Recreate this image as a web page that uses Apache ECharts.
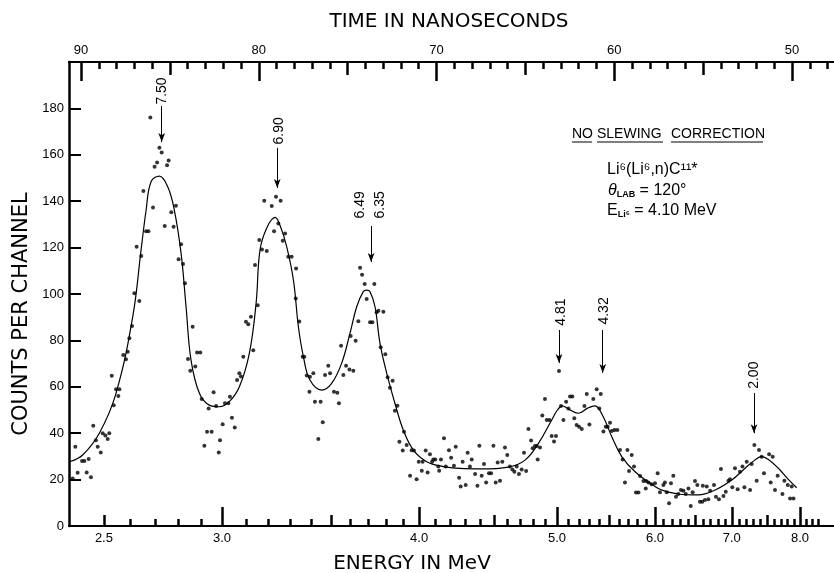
<!DOCTYPE html>
<html>
<head>
<meta charset="utf-8">
<title>Li6(Li6,n)C11* neutron time-of-flight spectrum</title>
<script src="https://cdn.jsdelivr.net/npm/echarts@6/dist/echarts.min.js"></script>
<style>
  html, body { margin: 0; padding: 0; background: #fff; }
  #chart { width: 834px; height: 573px; }
</style>
</head>
<body>
<div id="chart"></div>
<script>
// measured counts, x is flight time in ns
const dotTime = [
  90.47, 90.32, 90.19, 89.94, 89.81, 89.68, 89.57, 89.44, 89.31, 89.16, 89.06, 88.89, 88.78, 88.63, 88.50, 88.41,
  88.27, 88.16, 88.03, 87.90, 87.84, 87.62, 87.47, 87.37, 87.28, 87.13, 87.00, 86.87, 86.72, 86.61, 86.49, 86.34,
  86.21, 86.10, 85.95, 85.86, 85.72, 85.59, 85.46, 85.29, 85.16, 85.07, 84.92, 84.79, 84.66, 84.51, 84.37, 84.26,
  84.15, 83.98, 83.85, 83.72, 83.57, 83.47, 83.29, 83.21, 83.06, 82.91, 82.82, 82.65, 82.54, 82.40, 82.25, 82.18,
  82.03, 81.90, 81.71, 81.62, 81.51, 81.35, 81.22, 81.09, 81.00, 80.87, 80.72, 80.59, 80.44, 80.31, 80.21, 80.06,
  79.97, 79.82, 79.69,
  79.55, 79.27, 79.14, 79.03, 78.90, 78.77, 78.65, 78.52, 78.34, 78.15, 77.92, 77.90, 77.72, 77.53, 77.44, 77.30,
  77.15, 77.12, 76.93, 76.84, 76.65, 76.52, 76.40, 76.27, 76.09, 75.99, 75.77, 75.58, 75.49, 75.37, 75.24, 75.09,
  74.90, 74.83, 74.68, 74.55, 74.40, 74.30, 74.19, 74.04, 73.93, 73.74, 73.61, 73.50, 73.37, 73.27, 73.14, 72.99,
  72.88, 72.75, 72.62, 72.47, 72.34, 72.20, 72.09, 71.90, 71.83, 71.68, 71.49, 71.40, 71.27, 71.12, 71.00, 70.83,
  70.78, 70.61, 70.50, 70.37, 70.25, 70.18, 70.07, 69.90, 69.85, 69.75, 69.58, 69.48, 69.30, 69.18, 69.02, 68.92,
  68.73,
  68.64, 68.53, 68.36, 68.25, 68.12, 68.02, 67.83, 67.70, 67.59, 67.46, 67.33, 67.21, 67.05, 66.93, 66.80, 66.67,
  66.56, 66.43, 66.30, 66.15, 66.02, 65.87, 65.73, 65.62, 65.49, 65.36, 65.21, 65.08, 64.96, 64.83, 64.68, 64.59,
  64.46, 64.36, 64.31, 64.18, 64.05, 63.90, 63.80, 63.65, 63.52, 63.39, 63.28, 63.11, 63.00, 62.86, 62.71, 62.58,
  62.49, 62.36, 62.25, 62.12, 61.98, 61.83, 61.68, 61.55, 61.40, 61.18, 60.99, 60.84, 60.76, 60.61, 60.48, 60.37,
  60.24, 60.14, 59.99, 59.83, 59.68, 59.53, 59.40, 59.26, 59.17, 59.02, 58.89, 58.78, 58.64, 58.55, 58.36, 58.23,
  58.21, 58.08, 57.90,
  57.71, 57.56, 57.43, 57.24, 57.15, 57.05, 56.92, 56.81, 56.68, 56.53, 56.40, 56.25, 56.11, 55.98, 55.83, 55.70,
  55.59, 55.46, 55.33, 55.18, 55.05, 55.02, 54.90, 54.80, 54.71, 54.61, 54.39, 54.28, 54.11, 54.00, 53.86, 53.73,
  53.58, 53.49, 53.36, 53.21, 53.06, 52.93, 52.79, 52.68, 52.55, 52.36, 52.27, 52.12, 51.99, 51.86, 51.71, 51.58,
  51.29, 51.20, 51.09, 50.96, 50.81, 50.54, 50.43, 50.24, 50.11, 50.02, 49.92
];
const dotCount = [
  20.5, 34.2, 23, 28, 28, 23.1, 28.9, 21, 43.2, 37, 34.2, 31.7, 40, 39, 37.5, 40,
  64.8, 52.1, 58.9, 56, 58.9, 73.7, 71.9, 75.1, 80.9, 86.2, 100.3, 120.4, 97, 116.4, 144.4, 127.1,
  127.1, 176.1, 137.3, 154.9, 156.7, 163, 161, 129.3, 155.5, 157.5, 135.2, 129, 138, 115, 121.4, 112.9,
  104.6, 72, 66.9, 85.9, 68.7, 74.8, 74.8, 54.7, 34.6, 40.6, 50.7, 40.6, 57.6, 51.7, 31.7, 37,
  43.9, 52.9, 52.9, 55.7, 46.7, 42.5, 62.9, 65.8, 64.4, 73, 88, 87, 90.2, 75.8, 112.5, 95.2,
  123.3, 119.2, 140.2,
  118.5, 137.9, 127.1, 141.9, 130.4, 140.2, 123, 126.1, 116.1, 116.1, 98.1, 111, 88.1, 73, 73, 64.9,
  57.9, 64.3, 65.8, 53.6, 37.5, 53.6, 44.7, 65.1, 69.1, 65.8, 57.9, 57.4, 52.9, 77.7, 65.1, 69.1,
  67.5, 81.9, 66.9, 79.9, 88.3, 111.3, 108.3, 104.3, 97.8, 87.8, 87.8, 104.3, 92.1, 92.8, 77, 92.4,
  74, 64.1, 59.6, 62.6, 49.7, 51.8, 36.3, 32.5, 40.6, 34.9, 21.7, 32.7, 32.5, 20.2, 27.7, 23.8,
  27.7, 32.5, 23.1, 30.9, 27.7, 28.7, 28.7, 25.6, 23.8, 28.7, 37.8, 25.6, 32.7, 29.4, 26, 34.2,
  20.8,
  17, 27.7, 17.7, 31.6, 25.6, 28.7, 22.4, 17.4, 34.6, 21.7, 26.7, 18.7, 22.7, 22.7, 34.6, 18.7,
  27.4, 19.5, 27.7, 33.8, 30.6, 25.6, 24.4, 23.4, 25.6, 22.4, 24.4, 31.6, 23.7, 41.8, 36.8, 33.5,
  34.5, 34.5, 28.7, 33.8, 47.6, 54.7, 45.7, 45.7, 38.8, 36.4, 38.8, 66.8, 51.7, 45.7, 53.6, 50.7,
  55.8, 55.8, 46.4, 43.5, 42.8, 41.8, 51.7, 56.9, 43.8, 54.7, 58.9, 50.7, 56.9, 40.7, 42.8, 42.8,
  44.5, 41, 41.4, 41.4, 32.8, 28.7, 18.7, 32.8, 23.7, 30.6, 25.6, 14.4, 14.4, 21.5, 19.4, 16.2,
  19.4, 18.8, 18,
  18.4, 22.7, 14.5, 17.7, 18.7, 14.5, 9.8, 18.4, 21.7, 12.6, 13.8, 15.5, 15.2, 13.8, 16.2, 8.6,
  14.5, 19.4, 17.7, 10.5, 10.5, 17.4, 11.2, 17, 11.5, 15.2, 17.7, 12.6, 11.5, 24.6, 12.9, 14.8,
  19.5, 20.1, 16.7, 24.9, 15.8, 23.4, 25.6, 16.7, 27.7, 15.5, 26.7, 34.9, 19.5, 32.8, 29.9, 22.7,
  30.9, 18.7, 29.9, 15.5, 21.7, 13.8, 19.5, 17.7, 11.9, 17, 11.9
];

// hand-drawn fit through the spectrum
const fitTime = [
  90.6, 89.91, 88.97, 88.03, 87.09, 86.62, 86.34, 86.06, 85.59, 85.12, 84.75, 84.37, 84.09, 83.81, 83.34, 82.78,
  82.22, 81.66, 81.09, 80.53, 80.15, 79.93, 79.55, 79.08, 78.80, 78.43, 78.05, 77.77, 77.49, 77.12, 76.46, 75.90,
  75.34, 74.87, 74.49, 74.12, 73.93, 73.74, 73.46, 73.18, 72.80, 72.34, 71.87, 71.30, 70.55, 69.62, 68.68, 67.46,
  65.96, 65.02, 64.27, 63.52, 63.20, 62.92, 62.60, 62.02, 61.50, 61.08, 60.65, 60.14, 59.58, 58.83, 57.71, 57.33,
  56.40, 55.27, 54.33, 53.39, 52.64, 52.08, 51.71, 51.33, 50.77, 50.21, 49.74
];
const fitCount = [
  27.8, 30.6, 40, 57.2, 90.2, 119, 136, 148.4, 150.8, 146.2, 136.2, 117.5, 94.5, 71.5, 57.2, 52.1,
  51.4, 53.6, 60, 74.4, 96, 119, 128.5, 133, 129.5, 120.4, 106, 85.9, 73, 62.9, 58.6, 61.5,
  70.1, 83, 94.5, 101, 101.7, 101, 94.5, 78.7, 65.8, 52.9, 41.4, 32.7, 27.7, 25.6, 24.8, 24.6,
  25.4, 28.4, 35.6, 45.7, 50, 51.8, 50.5, 48.6, 50.8, 51.8, 47.5, 38.5, 29.9, 23.4, 17, 15.5,
  13.8, 13.4, 15.5, 19.8, 24.9, 28.5, 29.9, 28.7, 24.9, 20.1, 16.5
];

// axis ticks
const timeLabels = [90, 80, 70, 60, 50];
const energyValues = [2.5, 3, 4, 5, 6, 7, 8];
const energyLabels = ['2.5', '3.0', '4.0', '5.0', '6.0', '7.0', '8.0'];
const energyTimes = [88.71, 82.07, 70.98, 63.22, 57.71, 53.39, 49.55];
const countTicks = [0, 20, 40, 60, 80, 100, 120, 140, 160, 180];

// level labels and arrows (MeV of C11 states)
const peakLabels = ['7.50', '6.90', '6.49', '6.35', '4.81', '4.32', '2.00'];
const peakLabelTime = [85.44, 78.83, 74.30, 73.18, 63.0, 60.58, 52.14];
const peakLabelCount = [187.5, 170.3, 138.4, 138.4, 92.2, 92.7, 65];
const arrowTime = [85.46, 78.96, 73.68, 63.11, 60.65, 52.14];
const arrowFrom = [181, 163, 129.3, 84.5, 84.5, 57.3];
const arrowTo = [165.5, 145.7, 113.8, 70.3, 66, 40];

const timeMin = 47.64, timeMax = 90.675;
const ink = '#000';
const font = '"Liberation Sans", Arial, sans-serif';

function energyToTime(e) {
  let i = 0;
  while (i < energyValues.length - 2 && e > energyValues[i + 1]) i++;
  const u0 = 1 / Math.sqrt(energyValues[i]);
  const u1 = 1 / Math.sqrt(energyValues[i + 1]);
  const f = (1 / Math.sqrt(e) - u0) / (u1 - u0);
  return energyTimes[i] + f * (energyTimes[i + 1] - energyTimes[i]);
}

const timeMinor = [];
for (let t = 48; t <= 90; t++) timeMinor.push(t);
const timeMid = [85, 75, 65, 55];
const energyMinor = [];
for (let k = 25; k <= 83; k++) energyMinor.push(energyToTime(k / 10));
const energyMid = [2.5, 3.5, 4.5, 5.5, 6.5, 7.5].map(energyToTime);

function timeAxis(position, ticks, len) {
  return {
    type: 'value', position: position, min: timeMin, max: timeMax, inverse: true,
    axisLine: { show: true, onZero: false, lineStyle: { color: ink, width: 2 } },
    axisTick: { show: true, inside: true, length: len, customValues: ticks, lineStyle: { color: ink, width: 2.5 } },
    axisLabel: { show: false },
    splitLine: { show: false }
  };
}

const topMajor = timeAxis('top', timeLabels, 19);
topMajor.axisLabel = { show: true, customValues: timeLabels, margin: 5, color: ink, fontSize: 13, fontFamily: font };
const bottomMajor = timeAxis('bottom', energyTimes.slice(1), 19);
bottomMajor.axisLabel = {
  show: true, customValues: energyTimes, margin: 6, color: ink, fontSize: 13, fontFamily: font,
  formatter: function (v) {
    let best = 0;
    energyTimes.forEach(function (t, i) { if (Math.abs(t - v) < Math.abs(energyTimes[best] - v)) best = i; });
    return energyLabels[best];
  }
};

let chart = echarts.init(document.getElementById('chart'));

const option = {
  animation: false,
  backgroundColor: '#fff',
  grid: { left: 69, right: 0, top: 62, bottom: 47 },
  xAxis: [
    topMajor,
    timeAxis('top', timeMid, 13),
    timeAxis('top', timeMinor, 7),
    bottomMajor,
    timeAxis('bottom', energyMid, 11),
    timeAxis('bottom', energyMinor, 7)
  ],
  yAxis: {
    type: 'value', min: 0, max: 200, position: 'left',
    axisLine: { show: true, onZero: false, lineStyle: { color: ink, width: 2.5 } },
    axisTick: { show: true, inside: true, length: 12, customValues: countTicks, lineStyle: { color: ink, width: 2 } },
    axisLabel: { customValues: countTicks, margin: 5, color: ink, fontSize: 13, fontFamily: font },
    splitLine: { show: false }
  },
  series: [
    {
      name: 'counts',
      type: 'scatter',
      silent: true,
      symbolSize: 4,
      itemStyle: { color: ink },
      data: dotTime.map(function (t, i) { return [t, dotCount[i]]; })
    },
    {
      name: 'fit',
      type: 'line',
      silent: true,
      smooth: 0.4,
      showSymbol: false,
      lineStyle: { color: ink, width: 1.2 },
      data: fitTime.map(function (t, i) { return [t, fitCount[i]]; }),
      markLine: {
        silent: true,
        symbol: ['none', 'arrow'],
        symbolSize: [5, 9],
        label: { show: false },
        lineStyle: { color: ink, width: 1, type: 'solid' },
        data: arrowTime.map(function (t, i) {
          return [{ coord: [t, arrowFrom[i]] }, { coord: [t, arrowTo[i]] }];
        })
      }
    }
  ]
};
chart.setOption(option);

function txt(x, y, text, size, extra) {
  const el = {
    type: 'text', x: x, y: y,
    style: {
      text: text, font: size + 'px ' + font, fill: ink,
      align: 'left', verticalAlign: 'middle', textAlign: 'left', textVerticalAlign: 'middle'
    }
  };
  return Object.assign(el, extra || {});
}

const graphics = [];
peakLabels.forEach(function (label, i) {
  const p = chart.convertToPixel({ xAxisIndex: 0, yAxisIndex: 0 }, [peakLabelTime[i], peakLabelCount[i]]);
  const el = txt(p[0], p[1], label, 14, { rotation: Math.PI / 2 });
  el.style.align = el.style.textAlign = 'center';
  graphics.push(el);
});

// axis titles
const title = function (x, y, text, size, rot) {
  const el = txt(x, y, text, size, { rotation: rot || 0 });
  el.style.font = size + 'px "DejaVu Sans", sans-serif';
  el.style.align = el.style.textAlign = 'center';
  return el;
};
graphics.push(title(449, 22, 'TIME IN NANOSECONDS', 20));
graphics.push(title(412, 564, 'ENERGY IN MeV', 20));
graphics.push(title(22, 314, 'COUNTS PER CHANNEL', 21, Math.PI / 2));

// run conditions box
[['NO', 572, 592], ['SLEWING', 597, 663], ['CORRECTION', 671, 763]].forEach(function (w) {
  graphics.push(txt(w[1], 134, w[0], 14));
  graphics.push({ type: 'line', shape: { x1: w[1], y1: 142, x2: w[2], y2: 142 }, style: { stroke: ink, lineWidth: 1 } });
});
graphics.push(txt(607, 170, 'Li\u2076(Li\u2076,n)C\u00b9\u00b9*', 16));
const rich = {
  it: { font: 'italic 16px ' + font, fill: ink },
  sub: { font: 'bold 9px ' + font, fill: ink, verticalAlign: 'bottom' }
};
const theta = txt(608, 191, '{it|\u03b8}{sub|LAB} = 120\u00b0', 16);
theta.style.rich = rich;
graphics.push(theta);
const eli = txt(607, 211, 'E{sub|Li\u2076} = 4.10 MeV', 16);
eli.style.rich = rich;
graphics.push(eli);

chart.setOption({ graphic: graphics });
</script>
</body>
</html>
